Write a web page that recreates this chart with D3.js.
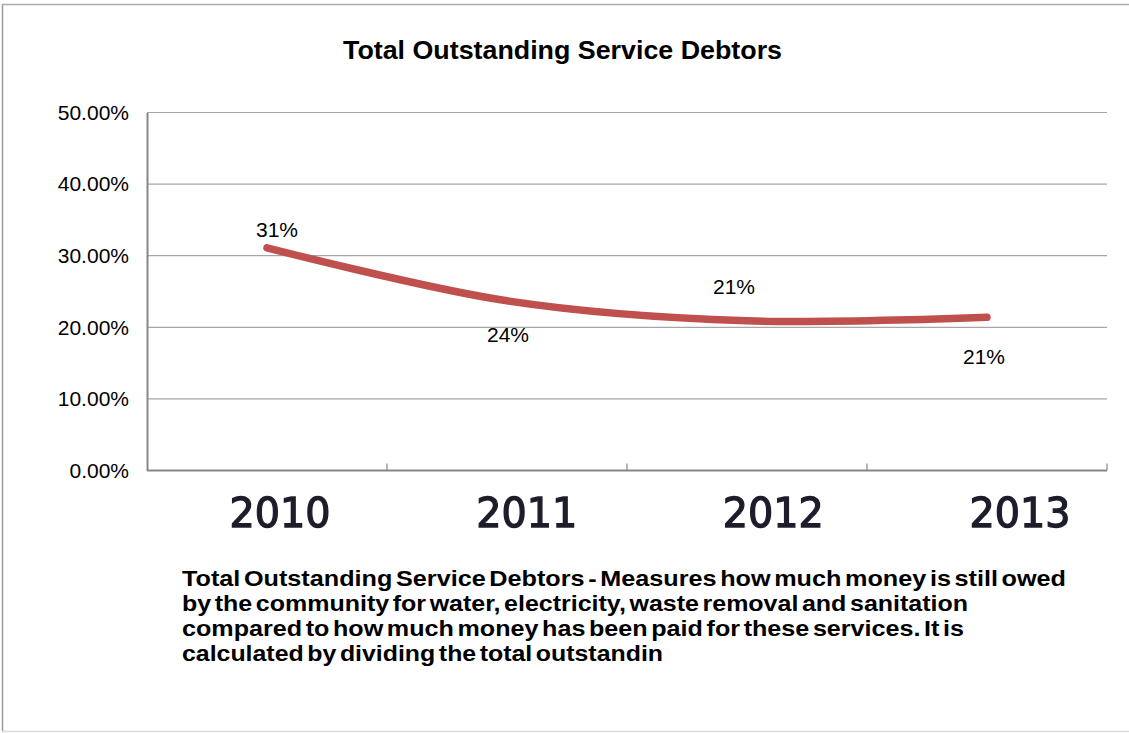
<!DOCTYPE html>
<html>
<head>
<meta charset="utf-8">
<script src="https://cdn.jsdelivr.net/npm/d3@7/dist/d3.min.js"></script>
<style>
  html, body { margin: 0; padding: 0; background: #ffffff; }
  svg { display: block; }
</style>
</head>
<body>
<svg id="chart" width="1129" height="733"></svg>
<script>
// Data
const categories = ["2010", "2011", "2012", "2013"];
const debtorShare = [0.311, 0.237, 0.209, 0.214];
const yTicks = [0, 0.1, 0.2, 0.3, 0.4, 0.5];
const chartTitle = "Total Outstanding Service Debtors";
const noteLines = [
  "Total Outstanding Service Debtors -  Measures how much money is still owed",
  "by the community for water, electricity, waste removal and sanitation",
  "compared to how much money has been paid for these services. It is",
  "calculated by dividing the total outstandin"
];

// Layout
const W = 1129, H = 733;
const plot = { left: 147, right: 1107, top: 112.5, bottom: 470.5 };
const labelNudge = [[10, -18], [1, 34], [-13, -34], [-3, 39]];
const noteWidths = [884, 786, 782, 481];

const svg = d3.select("#chart");

// Outer frame
const frame = svg.append("g");
frame.append("line").attr("x1", 2.5).attr("x2", 2.5).attr("y1", 4).attr("y2", 731)
  .attr("stroke", "#9a9a9a").attr("stroke-width", 1.5);
frame.append("line").attr("x1", 2).attr("x2", W).attr("y1", 4.5).attr("y2", 4.5)
  .attr("stroke", "#ababab").attr("stroke-width", 1.5);
frame.append("line").attr("x1", 2).attr("x2", W).attr("y1", 731.5).attr("y2", 731.5)
  .attr("stroke", "#dcdcdc").attr("stroke-width", 1.5);

// Scales
const x = d3.scaleBand().domain(categories).range([plot.left, plot.right]);
const y = d3.scaleLinear().domain([0, 0.5]).range([plot.bottom, plot.top]);
const xLabel = d3.scalePoint().domain(categories).range([280, 1020]);

// Title
svg.append("text")
  .attr("x", 562.5).attr("y", 59)
  .attr("text-anchor", "middle")
  .attr("font-family", "'Liberation Sans', Arial, sans-serif")
  .attr("font-weight", "bold")
  .attr("font-size", 25)
  .attr("textLength", 439)
  .attr("lengthAdjust", "spacingAndGlyphs")
  .attr("fill", "#000")
  .text(chartTitle);

// Gridlines
svg.append("g")
  .selectAll("line")
  .data(yTicks.filter(d => d > 0))
  .join("line")
  .attr("x1", plot.left).attr("x2", plot.right)
  .attr("y1", d => y(d)).attr("y2", d => y(d))
  .attr("stroke", "#a6a6a6").attr("stroke-width", 1.2);

// Y axis
const yAxis = svg.append("g")
  .attr("transform", `translate(${plot.left},0)`)
  .call(d3.axisLeft(y).tickValues(yTicks).tickFormat(d3.format(".2%")).tickSize(0).tickPadding(18));
yAxis.select(".domain").attr("stroke", "#868686").attr("stroke-width", 2);
yAxis.selectAll("text")
  .attr("font-family", "'Liberation Sans', Arial, sans-serif")
  .attr("font-size", 21)
  .attr("fill", "#000");

// X axis (ticks point inward, at band boundaries)
const xAxis = svg.append("g")
  .attr("transform", `translate(0,${plot.bottom})`);
xAxis.append("line")
  .attr("x1", plot.left).attr("x2", plot.right)
  .attr("stroke", "#868686").attr("stroke-width", 2);
xAxis.selectAll("line.tick")
  .data(categories)
  .join("line")
  .attr("class", "tick")
  .attr("x1", d => x(d) + x.bandwidth()).attr("x2", d => x(d) + x.bandwidth())
  .attr("y1", 0).attr("y2", -7)
  .attr("stroke", "#868686").attr("stroke-width", 1.2);

// Category labels (soft, medium-weight)
const defs = svg.append("defs");
defs.append("filter").attr("id", "soft")
  .append("feGaussianBlur").attr("stdDeviation", 0.7);
svg.append("g")
  .selectAll("text")
  .data(categories)
  .join("text")
  .attr("x", d => xLabel(d))
  .attr("y", 527)
  .attr("text-anchor", "middle")
  .attr("font-family", "'DejaVu Sans', sans-serif")
  .attr("font-size", 40)
  .attr("textLength", 101)
  .attr("lengthAdjust", "spacingAndGlyphs")
  .attr("fill", "#1c1f2a")
  .attr("stroke", "#1c1f2a")
  .attr("stroke-width", 1.3)
  .attr("filter", "url(#soft)")
  .text(d => d);

// Series line
const series = categories.map((c, i) => ({ c, v: debtorShare[i] }));
const line = d3.line()
  .x(d => x(d.c) + x.bandwidth() / 2)
  .y(d => y(d.v))
  .curve(d3.curveCatmullRom.alpha(0.5));
svg.append("path")
  .datum(series)
  .attr("d", line)
  .attr("fill", "none")
  .attr("stroke", "#c0504d")
  .attr("stroke-width", 7.5)
  .attr("stroke-linecap", "round")
  .attr("stroke-linejoin", "round");

// Value labels
svg.append("g")
  .selectAll("text")
  .data(series)
  .join("text")
  .attr("x", (d, i) => x(d.c) + x.bandwidth() / 2 + labelNudge[i][0])
  .attr("y", (d, i) => y(d.v) + labelNudge[i][1])
  .attr("dy", "0.35em")
  .attr("text-anchor", "middle")
  .attr("font-family", "'Liberation Sans', Arial, sans-serif")
  .attr("font-size", 21)
  .attr("fill", "#000")
  .text(d => d3.format(".0%")(d.v));

// Explanatory note
svg.append("g")
  .selectAll("text")
  .data(noteLines)
  .join("text")
  .attr("x", 182)
  .attr("y", (d, i) => 586 + i * 25)
  .attr("font-family", "'Liberation Sans', Arial, sans-serif")
  .attr("font-weight", "bold")
  .attr("font-size", 22.5)
  .attr("word-spacing", -3)
  .attr("textLength", (d, i) => noteWidths[i])
  .attr("lengthAdjust", "spacingAndGlyphs")
  .attr("fill", "#000")
  .text(d => d);
</script>
</body>
</html>
